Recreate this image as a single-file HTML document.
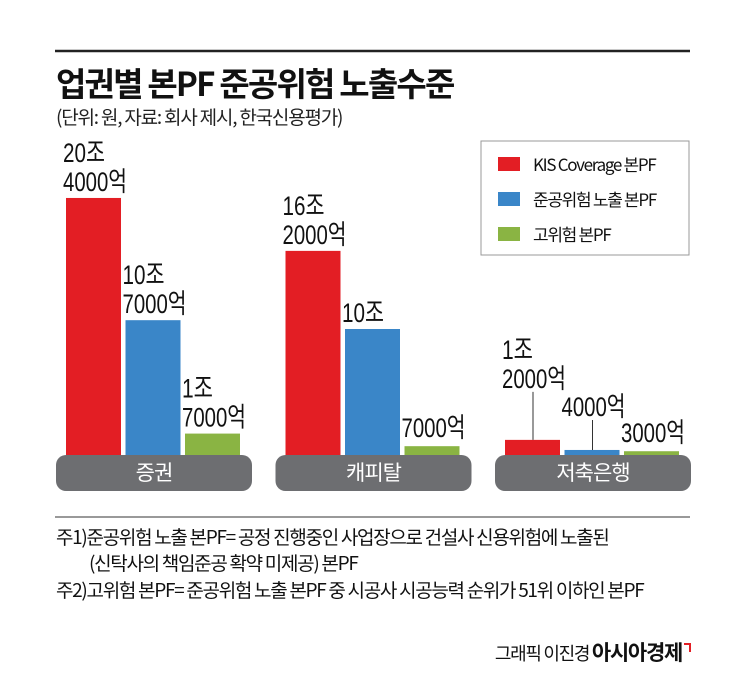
<!DOCTYPE html>
<html><head><meta charset="utf-8"><style>
body{margin:0;background:#fff;}
svg{display:block;font-family:"Liberation Sans","Noto Sans CJK KR",sans-serif;}
</style></head><body>
<svg id="chart" width="745" height="682" viewBox="0 0 745 682">
<line x1="55" y1="51" x2="690" y2="51" stroke="#222" stroke-width="2.5"/>
<text x="56" y="96" font-size="33" font-weight="bold" letter-spacing="-1.8" fill="#111" font-family="Noto Sans CJK KR, sans-serif">업권별 본PF 준공위험 노출수준</text>
<text x="56" y="124" font-size="19" letter-spacing="-1.2" fill="#222" font-family="Noto Sans CJK KR, sans-serif">(단위: 원, 자료: 회사 제시, 한국신용평가)</text>
<g id="bars"></g>
<g>
<rect x="481" y="141" width="208" height="114" fill="#fff" stroke="#999"/>
<rect x="498" y="157" width="22" height="14" fill="#e31e24"/>
<text x="533" y="171" font-size="17" letter-spacing="-1.3" fill="#111" font-family="Noto Sans CJK KR, sans-serif">KIS Coverage 본PF</text>
<rect x="498" y="192" width="22" height="14" fill="#3a86c8"/>
<text x="533" y="206" font-size="17" letter-spacing="-1.3" fill="#111" font-family="Noto Sans CJK KR, sans-serif">준공위험 노출 본PF</text>
<rect x="498" y="227" width="22" height="14" fill="#8ab443"/>
<text x="533" y="241" font-size="17" letter-spacing="-1.3" fill="#111" font-family="Noto Sans CJK KR, sans-serif">고위험 본PF</text>
</g>
<line x1="55" y1="517" x2="690" y2="517" stroke="#333" stroke-width="1"/>
<g font-family="Noto Sans CJK KR, sans-serif" font-size="19" letter-spacing="-1.3" fill="#111">
<text x="56" y="544">주1)준공위험 노출 본PF= 공정 진행중인 사업장으로 건설사 신용위험에 노출된</text>
<text x="89" y="570">(신탁사의 책임준공 확약 미제공) 본PF</text>
<text x="56" y="597">주2)고위험 본PF= 준공위험 노출 본PF 중 시공사 시공능력 순위가 51위 이하인 본PF</text>
<text x="682" y="660" text-anchor="end" font-size="18">그래픽 이진경 <tspan font-weight="bold" font-size="21">아시아경제</tspan></text>
</g>
<path d="M684 644h6v8" fill="none" stroke="#e31e24" stroke-width="2"/>
</svg>
<script>
const categories = ["증권", "캐피탈", "저축은행"];
const kisValues = [20.4, 16.2, 1.2];
const exposureValues = [10.7, 10.0, 0.4];
const highRiskValues = [1.7, 0.7, 0.3];
const kisLabels = [["20조","4000억"], ["16조","2000억"], ["1조","2000억"]];
const exposureLabels = [["10조","7000억"], ["10조"], ["4000억"]];
const highRiskLabels = [["1조","7000억"], ["7000억"], ["3000억"]];

const NS = "http://www.w3.org/2000/svg";
const g = document.getElementById("bars");
const baseY = 455, pxPer = 12.6;
const yScale = v => baseY - v * pxPer;
const groupX = i => 56 + i * 219.5;
const colors = ["#e31e24", "#3a86c8", "#8ab443"];
const seriesVals = [kisValues, exposureValues, highRiskValues];
const seriesLabels = [kisLabels, exposureLabels, highRiskLabels];
const seriesNames = ["kis", "exposure", "highrisk"];
function mk(tag, attrs) { const e = document.createElementNS(NS, tag); for (const k in attrs) e.setAttribute(k, attrs[k]); return e; }
function textLen(s) { let w = 0; for (const c of s) w += /[0-9]/.test(c) ? 11 : 20; return w; }

categories.forEach((cat, i) => {
  const gx = groupX(i);
  const pill = mk("rect", {x: gx, y: baseY, width: 196, height: 36, rx: 10, fill: "#6d6e71"});
  
  
  g.appendChild(pill);
  const ct = mk("text", {x: gx + 98, y: baseY + 25, "text-anchor": "middle", "font-size": 21, "letter-spacing": -1, fill: "#fff", "font-family": "Noto Sans CJK KR, sans-serif"});
  ct.textContent = cat;
  
  
  g.appendChild(ct);
  seriesVals.forEach((vals, s) => {
    const bx = gx + 10 + s * 59.5;
    const top = yScale(vals[i]);
    const bar = mk("rect", {x: bx, y: top, width: 55, height: baseY - top, fill: colors[s]});
    
    
    g.appendChild(bar);
    const lines = seriesLabels[s][i];
    let lastCenter = top - 17;
    const small = (baseY - top) < 20;
    if (small) {
      const raise = [62, 44, 19][s];
      lastCenter = top - raise;
      if (raise > 25) {
        const ln = mk("line", {x1: bx + 28, y1: lastCenter + 14, x2: bx + 28, y2: top, stroke: "#333", "stroke-width": 1});
        
        
        g.appendChild(ln);
      }
    }
    lines.forEach((ln, k) => {
      const cy = lastCenter - (lines.length - 1 - k) * 29;
      const t = mk("text", {x: bx - 3, y: cy + 10, "font-size": 27, fill: "#111", textLength: textLen(ln), lengthAdjust: "spacingAndGlyphs", "font-family": "Liberation Sans, Noto Sans CJK KR, sans-serif"});
      t.textContent = ln;
      
      
      g.appendChild(t);
    });
  });
});
</script>
</body></html>
